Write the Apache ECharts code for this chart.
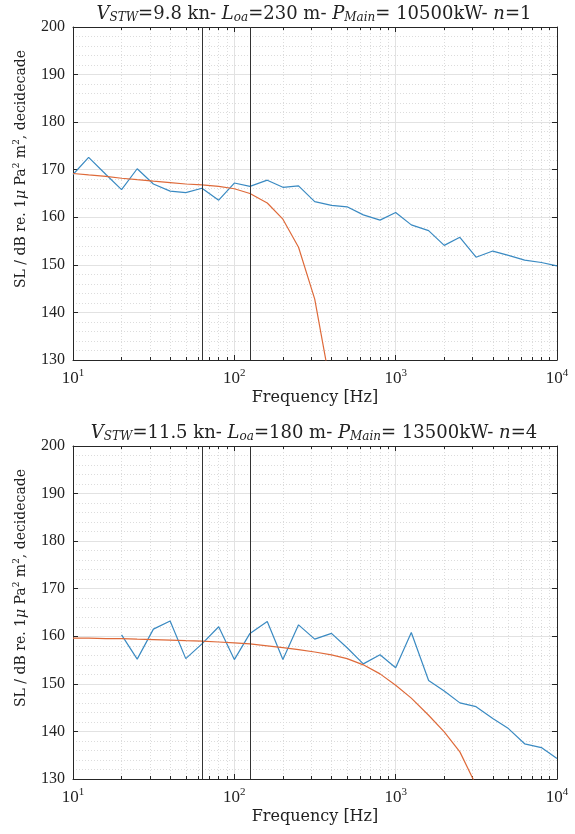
<!DOCTYPE html>
<html><head><meta charset="utf-8">
<script src="https://cdn.jsdelivr.net/npm/echarts@6/dist/echarts.min.js"></script>
<style>html,body{margin:0;padding:0;background:#fff}#c{width:575px;height:834px}</style>
</head><body><div id="c"></div>
<script>
// decidecade band centre frequencies [Hz]
const freqs = [10,12.5,16,20,25,31.5,40,50,63,80,100,125,160,200,250,315,400,500,630,800,1000,1250,1600,2000,2500,3150,4000,5000,6300,8000,10000];
// top panel (V=9.8 kn, L=230 m, P=10500 kW, n=1)
const topMeasured = [169.0,172.6,169.0,165.8,170.2,167.0,165.5,165.2,166.1,163.6,167.2,166.5,167.8,166.3,166.6,163.3,162.5,162.2,160.5,159.4,161.0,158.4,157.2,154.1,155.8,151.6,152.9,152.0,151.0,150.5,149.8];
const topModel = [169.2,168.9,168.6,168.2,167.9,167.6,167.3,167.0,166.8,166.5,166.0,165.0,163.0,159.6,153.7,142.8,123.5];
// bottom panel (V=11.5 kn, L=180 m, P=13500 kW, n=4)
const botMeasured = [null,null,null,160.3,155.2,161.5,163.2,155.3,158.4,162.0,155.1,160.6,163.1,155.1,162.4,159.4,160.6,157.6,154.2,156.1,153.4,160.8,150.7,148.5,146.0,145.2,142.7,140.6,137.4,136.6,134.3];
const botModel = [159.6,159.6,159.5,159.5,159.4,159.3,159.2,159.1,159.0,158.8,158.6,158.4,158.0,157.6,157.2,156.7,156.1,155.3,154.0,152.1,149.7,147.0,143.4,139.9,135.7,128.7];
// vertical reference lines [Hz]
const markerFreqs = [63, 125];
// axis ranges / ticks
const xMin = 10, xMax = 10000;
const yMin = 130, yMax = 200, yStep = 10;
const titles = [
  '{i|V}{s|STW}{n|=9.8 kn- }{i|L}{s|oa}{n|=230 m- }{i|P}{s|Main}{n|= 10500kW- }{i|n}{n|=1}',
  '{i|V}{s|STW}{n|=11.5 kn- }{i|L}{s|oa}{n|=180 m- }{i|P}{s|Main}{n|= 13500kW- }{i|n}{n|=4}'
];
const xName = 'Frequency [Hz]';
const yName = 'SL / dB re. 1{i|μ} Pa{p|2} m{p|2}, decidecade';

const FONT = 'Liberation Serif';
const FONT2 = 'DejaVu Serif';
const BLUE = '#3a8ac2', ORANGE = '#de6a3a', AX = '#262626', TXT = '#222';

function pairs(v){ const out=[]; v.forEach((y,i)=>{ if(y!==null && y!==undefined) out.push([freqs[i], y]); }); return out; }

const tops = [27, 446];
const grids = tops.map(t => ({left:73, top:t, width:484, height:333, containLabel:false}));

const supRich = {
  n:{fontFamily:FONT,fontSize:17,color:TXT},
  sup:{fontFamily:FONT,fontSize:11,color:TXT,padding:[0,0,10,0]}
};

const xAxes = [], yAxes = [];
[0,1].forEach(g => {
  xAxes.push({
    type:'log', logBase:10, gridIndex:g, min:xMin, max:xMax, position:'bottom',
    name:xName, nameLocation:'middle', nameGap:30,
    nameTextStyle:{fontFamily:FONT2,fontSize:16,color:TXT},
    axisLine:{show:true,lineStyle:{color:AX,width:1}},
    axisTick:{show:true,inside:true,length:5,lineStyle:{color:AX}},
    minorTick:{show:true,splitNumber:9,length:3,lineStyle:{color:AX}},
    axisLabel:{margin:8,formatter:v=>'{n|10}{sup|'+Math.round(Math.log10(v))+'}',rich:supRich},
    splitLine:{show:true,lineStyle:{color:'#e2e2e2',width:1}},
    minorSplitLine:{show:true,lineStyle:{color:'#dcdcdc',type:[1,2],width:1}}
  });
  xAxes.push({
    type:'log', logBase:10, gridIndex:g, min:xMin, max:xMax, position:'top',
    axisLine:{show:true,lineStyle:{color:AX,width:1}},
    axisTick:{show:true,inside:true,length:5,lineStyle:{color:AX}},
    minorTick:{show:true,splitNumber:9,length:3,lineStyle:{color:AX}},
    axisLabel:{show:false}, splitLine:{show:false}
  });
  yAxes.push({
    type:'value', gridIndex:g, min:yMin, max:yMax, interval:yStep, position:'left',
    name:yName, nameLocation:'middle', nameGap:43, nameRotate:90,
    nameTextStyle:{fontFamily:FONT2,fontSize:14,color:TXT,padding:[0,0,0,49],rich:{
      i:{fontFamily:FONT2,fontSize:14,fontStyle:'italic',color:TXT},
      p:{fontFamily:FONT2,fontSize:9,color:TXT,padding:[0,0,9,0]}}},
    axisLine:{show:true,lineStyle:{color:AX,width:1}},
    axisTick:{show:true,inside:true,length:5,lineStyle:{color:AX}},
    minorTick:{show:false,splitNumber:5},
    axisLabel:{margin:8,fontFamily:FONT,fontSize:16,color:TXT},
    splitLine:{show:true,lineStyle:{color:'#e2e2e2',width:1}},
    minorSplitLine:{show:true,lineStyle:{color:'#dcdcdc',type:[1,2],width:1}}
  });
  yAxes.push({
    type:'value', gridIndex:g, min:yMin, max:yMax, interval:yStep, position:'right',
    axisLine:{show:true,lineStyle:{color:AX,width:1}},
    axisTick:{show:true,inside:true,length:5,lineStyle:{color:AX}},
    axisLabel:{show:false}, splitLine:{show:false}
  });
});

const titleRich = {
  n:{fontFamily:FONT2,fontSize:18,fontWeight:'normal',color:TXT},
  i:{fontFamily:FONT2,fontSize:18,fontWeight:'normal',fontStyle:'italic',color:TXT},
  s:{fontFamily:FONT2,fontSize:12,fontWeight:'normal',fontStyle:'italic',color:TXT,padding:[8,0,0,0]}
};
const title = titles.map((t,k) => ({
  text:t, left:309, top:tops[k]-28, textAlign:'center',
  textStyle:{fontWeight:'normal',rich:titleRich}
}));

function lineSeries(g, data, color, withMarks){
  const s = {
    type:'line', xAxisIndex:g*2, yAxisIndex:g*2, data:pairs(data), showSymbol:false, symbol:'none',
    lineStyle:{color:color,width:1.2}, itemStyle:{color:color}, animation:false, clip:true, z:3
  };
  if(withMarks){
    s.markLine = {silent:true, symbol:'none', animation:false, label:{show:false},
      lineStyle:{color:'#333',type:'solid',width:1}, data:markerFreqs.map(f=>({xAxis:f}))};
  }
  return s;
}

const series = [
  lineSeries(0, topMeasured, BLUE, true),
  lineSeries(0, topModel, ORANGE, false),
  lineSeries(1, botMeasured, BLUE, true),
  lineSeries(1, botModel, ORANGE, false)
];

const chart = echarts.init(document.getElementById('c'), null, {renderer:'canvas'});
chart.setOption({backgroundColor:'#fff', animation:false, title, grid:grids, xAxis:xAxes, yAxis:yAxes, series});
</script></body></html>
